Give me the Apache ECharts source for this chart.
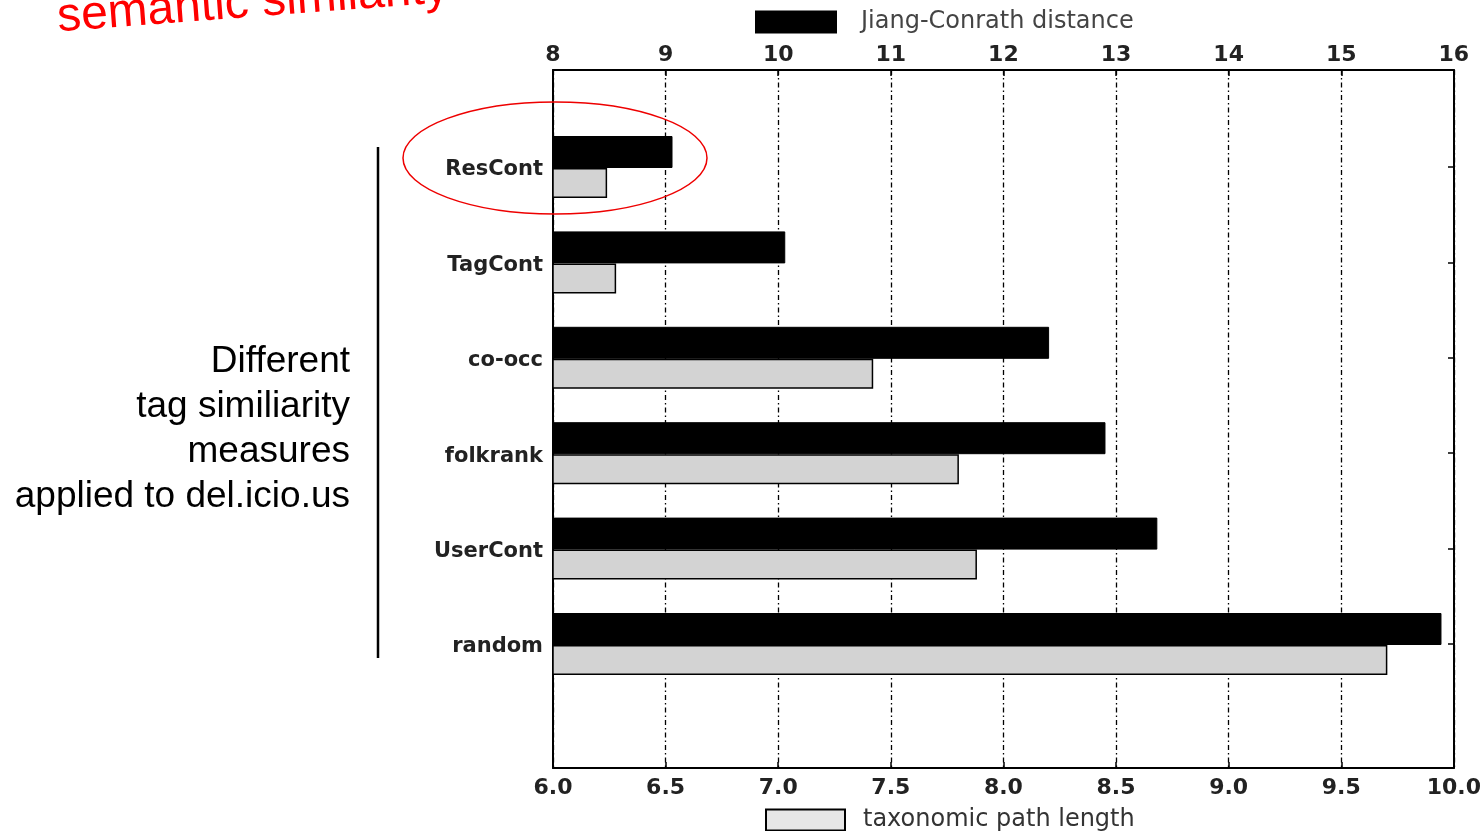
<!DOCTYPE html>
<html>
<head>
<meta charset="utf-8">
<script src="https://cdn.jsdelivr.net/npm/echarts@6/dist/echarts.min.js"></script>
<style>html,body{margin:0;padding:0;background:#fff;}#c{width:1484px;height:831px;}</style>
</head>
<body>
<div id="c"></div>
<script>
const categories = ['ResCont', 'TagCont', 'co-occ', 'folkrank', 'UserCont', 'random'];
const jiangConrath = [9.06, 10.06, 12.40, 12.90, 13.36, 15.88];
const pathLength = [6.24, 6.28, 7.42, 7.80, 7.88, 9.70];
const topTicks = [8, 16, 1];
const bottomTicks = [6, 10, 0.5];
const seriesNames = ['Jiang-Conrath distance', 'taxonomic path length'];

const FONT = 'DejaVu Sans';
const chart = echarts.init(document.getElementById('c'), null, {renderer: 'canvas'});

const gL = 553, gR = 1484 - 1455, gT = 70, gB = 831 - 768;
const band = 95.4;
const bT = 167 - band / 2, bH = band * categories.length;
const bB = 831 - bT - bH;

chart.setOption({
  animation: false,
  backgroundColor: '#fff',
  grid: [
    {left: gL, right: gR, top: gT, bottom: gB, containLabel: false},
    {left: gL, right: gR, top: bT, bottom: bB, containLabel: false}
  ],
  legend: [
    {
      data: [{name: seriesNames[0], icon: 'rect', itemStyle: {color: '#000'}}],
      left: 755, top: 10, padding: 0, itemWidth: 80, itemHeight: 21,
      textStyle: {fontFamily: FONT, fontSize: 24, color: '#444', padding: [3, 0, 0, 20]},
      selectedMode: false
    },
    {
      data: [{name: seriesNames[1], icon: 'rect', itemStyle: {color: '#e6e6e6', borderColor: '#000', borderWidth: 2}}],
      left: 765, top: 808, padding: 0, itemWidth: 79, itemHeight: 21,
      textStyle: {fontFamily: FONT, fontSize: 24, color: '#333', padding: [2, 0, 0, 13]},
      selectedMode: false
    }
  ],
  xAxis: [
    {
      gridIndex: 0, type: 'value', position: 'top',
      min: topTicks[0], max: topTicks[1], interval: topTicks[2],
      axisLine: {show: true, onZero: false, lineStyle: {color: '#000', width: 2}},
      axisTick: {show: true, inside: true, length: 6, lineStyle: {color: '#000', width: 1.5}},
      axisLabel: {fontFamily: FONT, fontWeight: 'bold', fontSize: 22, color: '#222', margin: 4},
      splitLine: {show: true, lineStyle: {color: '#000', width: 1.3, type: [5, 3, 1.5, 3]}}
    },
    {
      gridIndex: 0, type: 'value', position: 'bottom',
      min: bottomTicks[0], max: bottomTicks[1], interval: bottomTicks[2],
      axisLine: {show: true, onZero: false, lineStyle: {color: '#000', width: 2}},
      axisTick: {show: true, inside: true, length: 6, lineStyle: {color: '#000', width: 1.5}},
      axisLabel: {fontFamily: FONT, fontWeight: 'bold', fontSize: 22, color: '#222', margin: 9, formatter: v => v.toFixed(1)},
      splitLine: {show: false}
    },
    {gridIndex: 1, type: 'value', min: topTicks[0], max: topTicks[1], show: false},
    {gridIndex: 1, type: 'value', min: bottomTicks[0], max: bottomTicks[1], show: false}
  ],
  yAxis: [
    {
      gridIndex: 0, type: 'value', min: 0, max: 1, position: 'left',
      axisLine: {show: true, onZero: false, lineStyle: {color: '#000', width: 2}},
      axisTick: {show: false}, axisLabel: {show: false}, splitLine: {show: false}
    },
    {
      gridIndex: 0, type: 'value', min: 0, max: 1, position: 'right',
      axisLine: {show: true, onZero: false, lineStyle: {color: '#000', width: 2}},
      axisTick: {show: false}, axisLabel: {show: false}, splitLine: {show: false}
    },
    {
      gridIndex: 1, type: 'category', data: categories, inverse: true, position: 'left',
      axisLine: {show: false, onZero: false}, axisTick: {show: false},
      axisLabel: {
        margin: 10,
        formatter: v => '{c|' + v + '}',
        rich: {c: {fontFamily: FONT, fontWeight: 'bold', fontSize: 21, color: '#222', padding: [6, 0, 0, 0]}}
      },
      splitLine: {show: false}
    },
    {
      gridIndex: 1, type: 'category', data: categories, inverse: true, position: 'right',
      axisLine: {show: false, onZero: false},
      axisTick: {show: true, inside: true, length: 7, alignWithLabel: true, lineStyle: {color: '#000', width: 1.5}},
      axisLabel: {show: false}, splitLine: {show: false}
    }
  ],
  series: [
    {
      name: seriesNames[0], type: 'bar', xAxisIndex: 2, yAxisIndex: 2,
      data: jiangConrath, barWidth: 32, barGap: '0%', startValue: topTicks[0],
      itemStyle: {color: '#000', borderColor: '#000', borderWidth: 1}
    },
    {
      name: seriesNames[1], type: 'bar', xAxisIndex: 3, yAxisIndex: 2,
      data: pathLength, barWidth: 30, barGap: '0%', startValue: bottomTicks[0],
      itemStyle: {color: '#d3d3d3', borderColor: '#000', borderWidth: 1.5}
    }
  ],
  graphic: [
    {
      type: 'text', x: 59, y: 42, rotation: 0.075, z: 10,
      style: {text: 'semantic similarity', fill: '#ff0000', font: '48px "Liberation Sans", Arial', textAlign: 'left', textVerticalAlign: 'bottom'}
    },
    {
      type: 'text', x: 350, y: 339, z: 10,
      style: {text: 'Different\ntag similiarity\nmeasures\napplied to del.icio.us', fill: '#000', font: '37px "Liberation Sans", Arial', textAlign: 'right', lineHeight: 45}
    },
    {
      type: 'line', z: 10,
      shape: {x1: 378, y1: 147, x2: 378, y2: 658},
      style: {stroke: '#000', lineWidth: 2.5}
    },
    {
      type: 'ellipse', z: 10,
      shape: {cx: 555, cy: 158, rx: 152, ry: 56},
      style: {stroke: '#ee0000', lineWidth: 1.5, fill: null}
    }
  ]
});
</script>
</body>
</html>
